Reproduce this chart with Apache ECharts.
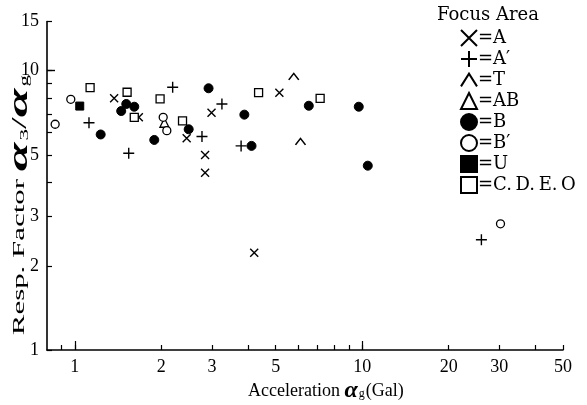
<!DOCTYPE html>
<html>
<head>
<meta charset="utf-8">
<script src="https://cdn.jsdelivr.net/npm/echarts@6/dist/echarts.min.js"></script>
<style>
    html, body { margin: 0; padding: 0; background: #fff; }
    #chart { width: 587px; height: 405px; }
</style>
</head>
<body>
<div id="chart"></div>
<script>
    // values: [acceleration (Gal), response factor]
    const seriesNames = ['A', 'A′', 'T', 'AB', 'B', 'B′', 'U', 'C.D.E.O'];
    const dataA = [[1.37, 7.96], [1.67, 6.81], [2.45, 5.73], [2.99, 7.07], [2.84, 4.99], [2.84, 4.31], [5.15, 8.34], [4.21, 2.23]];
    const dataA2 = [[1.12, 6.51], [1.54, 5.06], [2.19, 8.72], [3.25, 7.6], [2.77, 5.81], [3.79, 5.38], [26.0, 2.48]];
    const dataT = [[5.78, 9.52], [6.1, 5.57]];
    const dataAB = [[2.05, 6.51]];
    const dataB = [[1.23, 5.91], [1.45, 7.17], [1.51, 7.6], [1.61, 7.43], [1.89, 5.65], [2.49, 6.17], [2.92, 8.65], [3.89, 6.96], [4.12, 5.38], [6.52, 7.49], [9.73, 7.43], [10.46, 4.57]];
    const dataB2 = [[0.854, 6.43], [0.968, 7.9], [2.03, 6.81], [2.09, 6.1], [30.3, 2.83]];
    const dataU = [[1.04, 7.47]];
    const dataC = [[1.13, 8.69], [1.52, 8.37], [1.61, 6.81], [1.98, 7.92], [2.37, 6.61], [4.36, 8.34], [7.14, 7.96]];

    const xTicks = [0.9, 1, 2, 3, 4, 5, 6, 7, 8, 9, 10, 20, 30, 40, 50];
    const xTickLabels = [1, 2, 3, 5, 10, 20, 30, 50];
    const yTicks = [1, 2, 3, 4, 5, 6, 7, 8, 9, 10, 15];
    const yTickLabels = [1, 2, 3, 5, 10, 15];

    const serif = '"Liberation Serif", "DejaVu Serif", serif';
    const wideSerif = '"DejaVu Serif", serif';
    const crossPath = 'path://M0,0L10,10M10,0L0,10';
    const plusPath = 'path://M5,0L5,10M0,5L10,5';
    const caretPath = 'path://M0,8L5,0L10,8';

    const lineMark = { color: 'transparent', borderColor: '#000', borderWidth: 1.4, opacity: 1 };
    const openMark = { color: '#fff', borderColor: '#000', borderWidth: 1.3, opacity: 1 };
    const fillMark = { color: '#000', borderColor: '#000', borderWidth: 1, opacity: 1 };

    function scatter(name, data, symbol, size, style) {
        return {
            name: name,
            type: 'scatter',
            data: data,
            symbol: symbol,
            symbolSize: size,
            symbolKeepAspect: true,
            itemStyle: style,
            emphasis: { disabled: true },
            animation: false
        };
    }

    const myChart = echarts.init(document.getElementById('chart'));
    const richX = {
        t: { fontFamily: serif, fontSize: 18, color: '#000' },
        a: { fontFamily: serif, fontSize: 24, fontWeight: 'bold', fontStyle: 'italic', color: '#000' },
        s: { fontFamily: serif, fontSize: 12, color: '#000', verticalAlign: 'bottom', padding: [0, 1, 3, 1] }
    };
    const richY = {
        t: { fontFamily: serif, fontSize: 16, color: '#000' },
        a: { fontFamily: serif, fontSize: 27, fontWeight: 'bold', fontStyle: 'italic', color: '#000' },
        d: { fontFamily: serif, fontSize: 22, color: '#000' },
        s: { fontFamily: serif, fontSize: 12, color: '#000', verticalAlign: 'bottom', padding: [0, 0, 3, 1] }
    };
    const option = {
        backgroundColor: '#fff',
        textStyle: { fontFamily: serif, color: '#000' },
        title: {
            text: 'Focus Area',
            left: 437,
            top: 6,
            padding: 0,
            textStyle: { fontFamily: wideSerif, fontSize: 18, fontWeight: 'normal', color: '#000' }
        },
        legend: {
            orient: 'vertical',
            left: 460,
            top: 29,
            padding: 0,
            itemWidth: 16,
            itemHeight: 16,
            itemGap: 3,
            data: seriesNames,
            formatter: function (name) {
                return '=' + (name === 'C.D.E.O' ? 'C.\u2009D.\u2009E.\u2009O' : name);
            },
            textStyle: { fontFamily: wideSerif, fontSize: 18, color: '#000', padding: [0, 0, 0, -4] }
        },
        grid: { left: 47, right: 24, top: 21.5, bottom: 55 },
        xAxis: [{
            type: 'log',
            min: 0.8,
            max: 50,
            axisLine: { lineStyle: { color: '#000', width: 1.6 } },
            axisTick: { inside: true, length: 5, customValues: xTicks, lineStyle: { color: '#000', width: 1.2 } },
            axisLabel: { customValues: xTickLabels, margin: 8, fontFamily: serif, fontSize: 18, color: '#000' },
            splitLine: { show: false }
        }, {
            type: 'log',
            min: 0.8,
            max: 50,
            position: 'bottom',
            axisLine: { show: false },
            axisTick: { inside: true, length: 9, customValues: [1, 10], lineStyle: { color: '#000', width: 1.2 } },
            axisLabel: { show: false },
            splitLine: { show: false }
        }],
        yAxis: [{
            type: 'log',
            min: 1,
            max: 15,
            axisLine: { lineStyle: { color: '#000', width: 1.6 } },
            axisTick: { inside: true, length: 5, customValues: yTicks, lineStyle: { color: '#000', width: 1.2 } },
            axisLabel: { customValues: yTickLabels, margin: 8, fontFamily: serif, fontSize: 18, color: '#000' },
            splitLine: { show: false }
        }, {
            type: 'log',
            min: 1,
            max: 15,
            position: 'left',
            axisLine: { show: false },
            axisTick: { inside: true, length: 8, customValues: [10], lineStyle: { color: '#000', width: 1.4 } },
            axisLabel: { show: false },
            splitLine: { show: false }
        }],
        graphic: [{
            type: 'text',
            x: 248,
            y: 391,
            style: {
                text: '{t|Acceleration }{a|α}{s|g}{t|(Gal)}',
                font: '18px "Liberation Serif"',
                fill: '#000',
                align: 'left',
                verticalAlign: 'middle',
                rich: richX
            }
        }, {
            type: 'text',
            x: 20,
            y: 205,
            rotation: Math.PI / 2,
            scaleX: 1.93,
            style: {
                text: '{t|Resp. Factor }{a|α}{s|3}{d|/}{a|α}{s|g}',
                font: '16px "Liberation Serif"',
                fill: '#000',
                align: 'center',
                verticalAlign: 'middle',
                rich: richY
            }
        }],
        series: [
            scatter(seriesNames[0], dataA, crossPath, 8, lineMark),
            scatter(seriesNames[1], dataA2, plusPath, 11, lineMark),
            scatter(seriesNames[2], dataT, caretPath, [10, 8], lineMark),
            scatter(seriesNames[3], dataAB, 'triangle', 9, openMark),
            scatter(seriesNames[4], dataB, 'circle', 9, fillMark),
            scatter(seriesNames[5], dataB2, 'circle', 8, openMark),
            scatter(seriesNames[6], dataU, 'rect', 8, fillMark),
            scatter(seriesNames[7], dataC, 'rect', 8, openMark)
        ]
    };
    myChart.setOption(option);
</script>
</body>
</html>
